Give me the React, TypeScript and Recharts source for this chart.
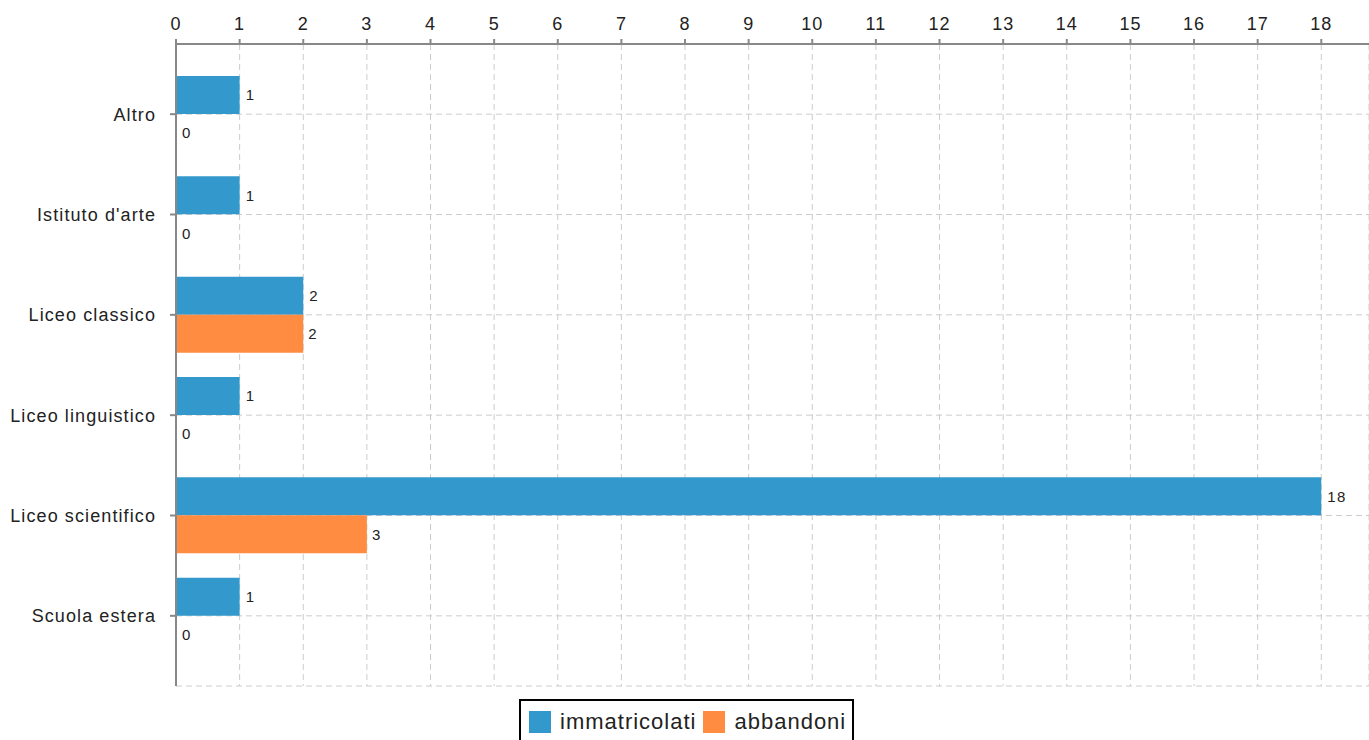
import React from "react"
import {
  BarChart,
  Bar,
  XAxis,
  YAxis,
  CartesianGrid,
  LabelList,
  Legend
} from "recharts"

const categories = [
  "Altro",
  "Istituto d'arte",
  "Liceo classico",
  "Liceo linguistico",
  "Liceo scientifico",
  "Scuola estera"
]
const immatricolati = [1, 1, 2, 1, 18, 1]
const abbandoni = [0, 0, 2, 0, 3, 0]
const xTicks = [0, 1, 2, 3, 4, 5, 6, 7, 8, 9, 10, 11, 12, 13, 14, 15, 16, 17, 18]

const BLUE = "#3399cc"
const ORANGE = "#ff8c40"
const FONT = "'Liberation Sans', Arial, sans-serif"

const data = categories.map((name, i) => ({
  name,
  immatricolati: immatricolati[i],
  abbandoni: abbandoni[i]
}))

const LegendBox = () => (
  <div
    style={{
      border: "2px solid #000",
      background: "#fff",
      padding: "10px 6px 12px 8px",
      display: "flex",
      alignItems: "center",
      fontFamily: FONT,
      fontSize: 22,
      letterSpacing: 1,
      lineHeight: "22px",
      color: "#222",
      whiteSpace: "nowrap"
    }}>
    <span style={{ width: 22, height: 22, background: BLUE, display: "inline-block", marginRight: 9 }} />
    <span style={{ marginRight: 7 }}>immatricolati</span>
    <span style={{ width: 22, height: 22, background: ORANGE, display: "inline-block", marginRight: 9 }} />
    <span>abbandoni</span>
  </div>
)

const App = () => {
  return (
    <div style={{ position: "absolute", left: 0, top: 0 }}>
      <BarChart
        width={1369}
        height={740}
        layout="vertical"
        data={data}
        barGap={0}
        margin={{ top: 0, right: 0, bottom: 54, left: 0 }}>
        <CartesianGrid stroke="#cccccc" strokeDasharray="6 4" />
        <XAxis
          type="number"
          orientation="top"
          domain={[0, 18.75]}
          ticks={xTicks}
          interval={0}
          height={44}
          tickSize={5}
          tickMargin={9}
          axisLine={{ stroke: "#888", strokeWidth: 2 }}
          tickLine={{ stroke: "#888", strokeWidth: 2 }}
          tick={{ fill: "#222", fontSize: 18, fontFamily: FONT, letterSpacing: 1 }}
        />
        <YAxis
          type="category"
          dataKey="name"
          width={176}
          padding={{ top: 20, bottom: 20 }}
          tickSize={6}
          tickMargin={14}
          axisLine={{ stroke: "#888", strokeWidth: 2 }}
          tickLine={{ stroke: "#888", strokeWidth: 2 }}
          tick={{ fill: "#222", fontSize: 18, fontFamily: FONT, letterSpacing: 1.1 }}
        />
        <Legend
          layout="vertical"
          align="center"
          verticalAlign="middle"
          wrapperStyle={{ left: 519, top: 699, width: "auto", height: "auto" }}
          content={() => <LegendBox />}
        />
        <Bar dataKey="immatricolati" fill={BLUE} barSize={38} isAnimationActive={false}>
          <LabelList
            dataKey="immatricolati"
            position="right"
            offset={6}
            style={{ fill: "#222", fontSize: 15, fontFamily: FONT, letterSpacing: 1.5 }}
          />
        </Bar>
        <Bar dataKey="abbandoni" fill={ORANGE} barSize={38} minPointSize={1} isAnimationActive={false}>
          <LabelList
            dataKey="abbandoni"
            position="right"
            offset={5}
            style={{ fill: "#222", fontSize: 15, fontFamily: FONT, letterSpacing: 1.5 }}
          />
        </Bar>
      </BarChart>
    </div>
  )
}

export default App
